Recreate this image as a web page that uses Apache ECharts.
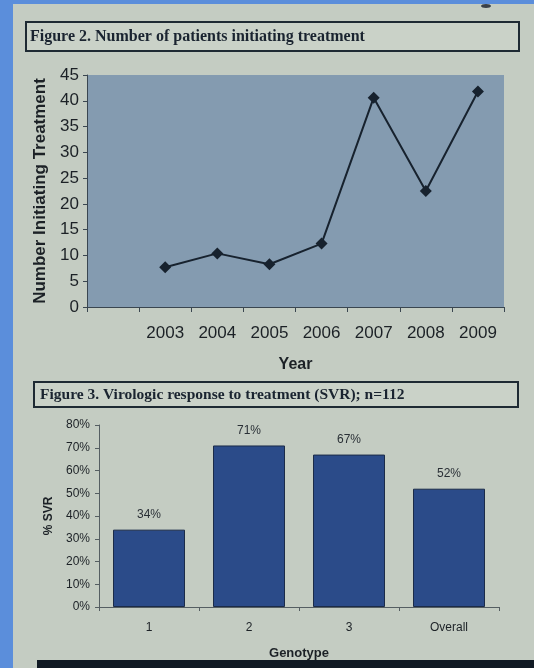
<!DOCTYPE html>
<html>
<head>
<meta charset="utf-8">
<script src="https://cdn.jsdelivr.net/npm/echarts@6/dist/echarts.min.js"></script>
<style>
html,body{margin:0;padding:0;background:#c4ccc2;}
#c{width:534px;height:668px;}
</style>
</head>
<body>
<div id="c"></div>
<script>
// Figure 2 data
var years = ['', '2003', '2004', '2005', '2006', '2007', '2008', '2009'];
var patients = [null, 7.7, 10.4, 8.3, 12.3, 40.6, 22.5, 41.8];
var lineYTicks = {min: 0, max: 45, interval: 5};

// Figure 3 data
var genotypes = ['1', '2', '3', 'Overall'];
var svr = [34, 71, 67, 52];
var barYTicks = {min: 0, max: 80, interval: 10};

var fig2Title = 'Figure 2. Number of patients initiating treatment';
var fig3Title = 'Figure 3. Virologic response to treatment (SVR); n=112';

var chart = echarts.init(document.getElementById('c'), null, {renderer: 'canvas'});
var txt = '#1c2126';
var option = {
  backgroundColor: '#c4ccc2',
  animation: false,
  grid: [
    {left: 87, top: 75, width: 417, height: 232, show: true, backgroundColor: '#849bb0', borderWidth: 0},
    {left: 99, top: 425, width: 400, height: 182, show: false}
  ],
  xAxis: [
    {
      gridIndex: 0, type: 'category', data: years, boundaryGap: true,
      axisLine: {show: true, lineStyle: {color: '#3a4650', width: 1}},
      axisTick: {show: true, interval: 0, length: 5, lineStyle: {color: '#3a4650'}},
      axisLabel: {fontFamily: 'Liberation Sans, Arial', fontSize: 17, color: txt, margin: 18, interval: 0},
      name: 'Year', nameLocation: 'middle', nameGap: 50,
      nameTextStyle: {fontFamily: 'Liberation Sans, Arial', fontSize: 16, fontWeight: 'bold', color: txt}
    },
    {
      gridIndex: 1, type: 'category', data: genotypes, boundaryGap: true,
      axisLine: {show: true, lineStyle: {color: '#555e62', width: 1}},
      axisTick: {show: true, length: 4, lineStyle: {color: '#555e62'}},
      axisLabel: {fontFamily: 'Liberation Sans, Arial', fontSize: 12, color: txt, margin: 15},
      name: 'Genotype', nameLocation: 'middle', nameGap: 40,
      nameTextStyle: {fontFamily: 'Liberation Sans, Arial', fontSize: 13, fontWeight: 'bold', color: txt}
    }
  ],
  yAxis: [
    {
      gridIndex: 0, type: 'value', min: lineYTicks.min, max: lineYTicks.max, interval: lineYTicks.interval,
      axisLine: {show: true, lineStyle: {color: '#3a4650'}},
      axisTick: {show: true, length: 4, lineStyle: {color: '#3a4650'}},
      splitLine: {show: false},
      axisLabel: {fontFamily: 'Liberation Sans, Arial', fontSize: 17, color: txt, margin: 8},
      name: 'Number Initiating Treatment', nameLocation: 'middle', nameGap: 37, nameRotate: 90,
      nameTextStyle: {fontFamily: 'Liberation Sans, Arial', fontSize: 17, fontWeight: 'bold', color: txt}
    },
    {
      gridIndex: 1, type: 'value', min: barYTicks.min, max: barYTicks.max, interval: barYTicks.interval,
      axisLine: {show: true, lineStyle: {color: '#555e62'}},
      axisTick: {show: true, length: 4, lineStyle: {color: '#555e62'}},
      splitLine: {show: false},
      axisLabel: {fontFamily: 'Liberation Sans, Arial', fontSize: 12, color: txt, margin: 9, formatter: '{value}%'},
      name: '% SVR', nameLocation: 'middle', nameGap: 39, nameRotate: 90,
      nameTextStyle: {fontFamily: 'Liberation Sans, Arial', fontSize: 12, fontWeight: 'bold', color: txt}
    }
  ],
  series: [
    {
      type: 'line', xAxisIndex: 0, yAxisIndex: 0, data: patients,
      symbol: 'diamond', symbolSize: 12, showSymbol: true,
      lineStyle: {color: '#17222e', width: 2},
      itemStyle: {color: '#17222e'}
    },
    {
      type: 'bar', xAxisIndex: 1, yAxisIndex: 1, data: svr,
      barCategoryGap: '28%',
      itemStyle: {color: '#2b4b89', borderColor: '#1b2b48', borderWidth: 1},
      label: {show: true, position: 'top', distance: 9, formatter: '{c}%',
        fontFamily: 'Liberation Sans, Arial', fontSize: 12, color: '#2a3036'}
    }
  ],
  graphic: [
    {type: 'rect', shape: {x: 0, y: 0, width: 13, height: 668}, style: {fill: '#5b8edb'}, z: 100},
    {type: 'rect', shape: {x: 0, y: 0, width: 534, height: 4}, style: {fill: '#5b8edb'}, z: 100},
    {type: 'ellipse', shape: {cx: 486, cy: 6, rx: 5, ry: 2}, style: {fill: '#3a4048'}, z: 50},
    {type: 'rect', shape: {x: 26, y: 22, width: 493, height: 29}, style: {fill: '#cad2c8', stroke: '#1e2a33', lineWidth: 2}, z: 50},
    {type: 'text', x: 30, y: 37, style: {text: fig2Title, fill: '#1a2430', font: 'bold 16px "Liberation Serif", "Times New Roman", serif', textVerticalAlign: 'middle'}, z: 51},
    {type: 'rect', shape: {x: 34, y: 382, width: 484, height: 25}, style: {fill: '#cad2c8', stroke: '#1e2a33', lineWidth: 2}, z: 50},
    {type: 'text', x: 40, y: 395, style: {text: fig3Title, fill: '#1a2430', font: 'bold 15.5px "Liberation Serif", "Times New Roman", serif', textVerticalAlign: 'middle'}, z: 51},
    {type: 'rect', shape: {x: 37, y: 660, width: 497, height: 8}, style: {fill: '#111a24'}, z: 50}
  ]
};
chart.setOption(option);
</script>
</body>
</html>
